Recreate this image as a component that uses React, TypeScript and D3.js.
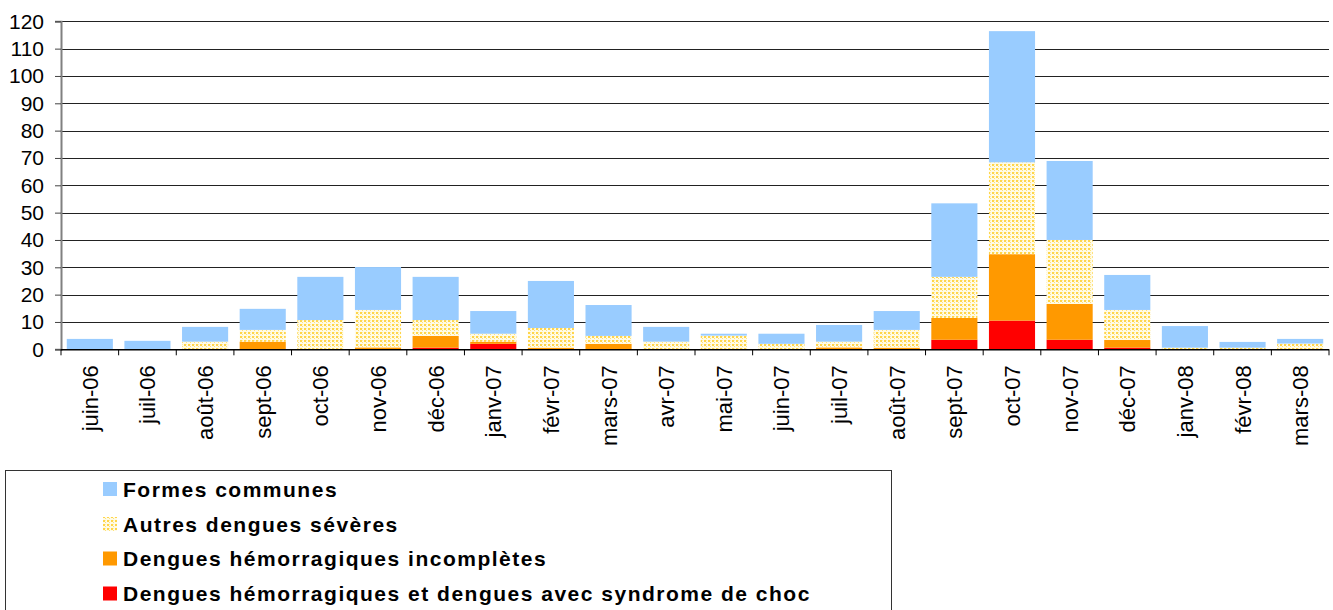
import React, { useEffect, useRef } from "react";
import * as d3 from "d3";

const months = [
  "juin-06", "juil-06", "août-06", "sept-06", "oct-06", "nov-06", "déc-06",
  "janv-07", "févr-07", "mars-07", "avr-07", "mai-07", "juin-07", "juil-07",
  "août-07", "sept-07", "oct-07", "nov-07", "déc-07", "janv-08", "févr-08", "mars-08",
];

// stacked bottom to top
const choc = [0, 0, 0, 0, 0, 0, 0.6, 2, 0, 0, 0, 0, 0, 0, 0, 3.5, 10.5, 3.5, 0.6, 0, 0, 0];
const incompletes = [0, 0, 0, 2.8, 0, 0.7, 4.3, 0.8, 0.6, 2, 0, 0, 0, 0.7, 0.6, 8, 24.3, 13.1, 2.8, 0, 0, 0];
const autresSeveres = [0, 0, 2.8, 4.3, 10.7, 13.7, 5.8, 2.9, 7.2, 2.9, 2.8, 5, 2, 2.1, 6.5, 15, 33.6, 23.4, 11, 0.6, 0.6, 2.1];
const formesCommunes = [3.8, 3.1, 5.4, 7.7, 15.8, 15.7, 15.8, 8.3, 17.2, 11.3, 5.4, 0.7, 3.7, 6.1, 6.9, 26.9, 48, 28.9, 12.8, 7.9, 2.1, 1.7];

const yTicks = [0, 10, 20, 30, 40, 50, 60, 70, 80, 90, 100, 110, 120];

const seriesNames = [
  "Dengues hémorragiques et dengues avec syndrome de choc",
  "Dengues hémorragiques incomplètes",
  "Autres dengues sévères",
  "Formes communes",
];

const FONT = "Arial, 'Liberation Sans', sans-serif";

const App: React.FC = () => {
  const svgRef = useRef<SVGSVGElement>(null);
  const width = 1333;
  const height = 610;
  const plot = { left: 61, right: 1329, top: 21.3, bottom: 349.3 };

  useEffect(() => {
    if (!svgRef.current) return;
    const svg = d3.select(svgRef.current);
    svg.selectAll("*").remove();

    // yellow "confetti" fill
    const defs = svg.append("defs");
    const pat = defs
      .append("pattern")
      .attr("id", "confetti")
      .attr("patternUnits", "userSpaceOnUse")
      .attr("width", 4)
      .attr("height", 4);
    pat.append("rect").attr("width", 4).attr("height", 4).attr("fill", "#fffbe6");
    pat.append("rect").attr("x", 0).attr("y", 0).attr("width", 2).attr("height", 2).attr("fill", "#ffd54a");
    pat.append("rect").attr("x", 2).attr("y", 2).attr("width", 1).attr("height", 1).attr("fill", "#ffe27a");
    pat.append("rect").attr("x", 2).attr("y", 0).attr("width", 1).attr("height", 1).attr("fill", "#fff0b0");

    const colors = ["#ff0000", "#ff9900", "url(#confetti)", "#99ccff"];

    const x = d3
      .scaleBand<string>()
      .domain(months)
      .range([plot.left, plot.right])
      .paddingInner(0.2)
      .paddingOuter(0.1);
    const y = d3.scaleLinear().domain([0, 120]).range([plot.bottom, plot.top]);

    // gridlines
    svg
      .append("g")
      .selectAll("line")
      .data(yTicks.filter((t) => t > 0))
      .enter()
      .append("line")
      .attr("x1", plot.left)
      .attr("x2", plot.right)
      .attr("y1", (d) => Math.round(y(d)) + 0.5)
      .attr("y2", (d) => Math.round(y(d)) + 0.5)
      .attr("stroke", "#222")
      .attr("stroke-width", 1);

    // stacked bars
    const table = months.map((m, i) => ({
      month: m,
      s0: choc[i],
      s1: incompletes[i],
      s2: autresSeveres[i],
      s3: formesCommunes[i],
    }));
    const layers = d3.stack<any>().keys(["s0", "s1", "s2", "s3"])(table);

    layers.forEach((layer, li) => {
      svg
        .append("g")
        .selectAll("rect")
        .data(layer)
        .enter()
        .append("rect")
        .attr("x", (d: any) => x(d.data.month) || 0)
        .attr("width", x.bandwidth())
        .attr("y", (d) => y(d[1]))
        .attr("height", (d) => Math.max(0, y(d[0]) - y(d[1])))
        .attr("fill", colors[li]);
    });

    // y axis
    const yAxis = svg
      .append("g")
      .attr("transform", `translate(${plot.left},0)`)
      .call(d3.axisLeft(y).tickValues(yTicks).tickSize(6).tickPadding(11));
    yAxis.select(".domain").attr("stroke", "#808080").attr("stroke-width", 2);
    yAxis.selectAll("line").attr("stroke", "#444");
    yAxis
      .selectAll("text")
      .attr("fill", "#000")
      .attr("font-family", FONT)
      .attr("font-size", "21px");

    // x axis: ticks between categories
    const xg = svg.append("g");
    xg.append("line")
      .attr("x1", plot.left)
      .attr("x2", plot.right)
      .attr("y1", plot.bottom + 0.5)
      .attr("y2", plot.bottom + 0.5)
      .attr("stroke", "#000")
      .attr("stroke-width", 1.5);
    const boundaries = d3
      .range(months.length + 1)
      .map((i) => plot.left + i * x.step());
    xg.selectAll("line.tick")
      .data(boundaries)
      .enter()
      .append("line")
      .attr("class", "tick")
      .attr("x1", (d) => d)
      .attr("x2", (d) => d)
      .attr("y1", plot.bottom)
      .attr("y2", plot.bottom + 6)
      .attr("stroke", "#000");
    xg.selectAll("text")
      .data(months)
      .enter()
      .append("text")
      .attr(
        "transform",
        (d) => `translate(${(x(d) || 0) + x.bandwidth() / 2 + 8},${plot.bottom + 16}) rotate(-90)`
      )
      .attr("text-anchor", "end")
      .attr("font-family", FONT)
      .attr("font-size", "22px")
      .attr("fill", "#000")
      .text((d) => d);

    // legend
    const legend = svg.append("g");
    legend
      .append("rect")
      .attr("x", 5.5)
      .attr("y", 470.5)
      .attr("width", 886)
      .attr("height", 200)
      .attr("fill", "#fff")
      .attr("stroke", "#333")
      .attr("stroke-width", 1);

    const legendOrder = [3, 2, 1, 0];
    const rowY = [489, 524, 558.5, 593.5];
    legendOrder.forEach((si, i) => {
      const item = legend.append("g").attr("transform", `translate(103,${rowY[i]})`);
      item
        .append("rect")
        .attr("x", 0)
        .attr("y", -7)
        .attr("width", 14)
        .attr("height", 14)
        .attr("fill", colors[si]);
      item
        .append("text")
        .attr("x", 20)
        .attr("y", 0)
        .attr("dominant-baseline", "central")
        .attr("font-family", FONT)
        .attr("font-size", "21px")
        .attr("font-weight", "bold")
        .attr("letter-spacing", "1.5px")
        .attr("fill", "#000")
        .text(seriesNames[si]);
    });
  }, []);

  return (
    <svg
      ref={svgRef}
      width={width}
      height={height}
      style={{ position: "absolute", left: 0, top: 0, background: "#fff" }}
    />
  );
};

export default App;
